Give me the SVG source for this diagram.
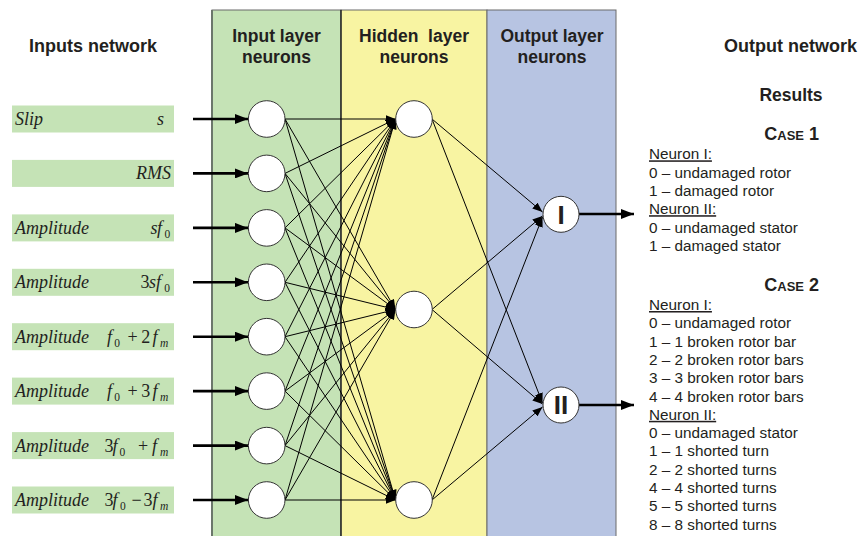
<svg xmlns="http://www.w3.org/2000/svg" width="860" height="536" viewBox="0 0 860 536">
<defs>
<marker id="a" markerUnits="userSpaceOnUse" markerWidth="10" markerHeight="8" refX="10" refY="4" orient="auto"><path d="M0,0 L10,4 L0,8 z" fill="#000"/></marker>
<marker id="A" markerUnits="userSpaceOnUse" markerWidth="13" markerHeight="10" refX="13" refY="5" orient="auto"><path d="M0,0 L13,5 L0,10 z" fill="#000"/></marker>
<style>
.h{font-family:"Liberation Sans",Arial,sans-serif;font-weight:bold;font-size:18px;fill:#231f20}
.ht{font-family:"Liberation Sans",Arial,sans-serif;font-weight:bold;font-size:17.5px;fill:#231f20;text-anchor:middle}
.l{font-family:"Liberation Sans",Arial,sans-serif;font-size:15.3px;fill:#231f20}
.u{text-decoration:underline}
.m{font-family:"Liberation Serif","Times New Roman",serif;font-style:italic;font-size:18px;fill:#231f20}
.r{font-style:normal}
.sb{font-size:11.5px;font-style:normal}
.si{font-size:11.5px}
.box{fill:#c5e3b6}
.n{fill:#fff;stroke:#333;stroke-width:1}
.c line{stroke:#000;stroke-width:1;marker-end:url(#a)}
.t line{stroke:#000;stroke-width:2.6;marker-end:url(#A)}
</style>
</defs>
<rect width="860" height="536" fill="#fff"/>
<g id="panels">
<rect x="212" y="10" width="129" height="530" fill="#c5e3b6" stroke="#6a6a6a" stroke-width="1"/>
<line x1="212" y1="10" x2="212" y2="536" stroke="#6b776b" stroke-width="2"/>
<rect x="341" y="10" width="146" height="530" fill="#f8f4a2" stroke="#6a6a6a" stroke-width="1"/>
<rect x="487" y="10" width="129" height="530" fill="#b7c4e2" stroke="#6a6a6a" stroke-width="1"/>
<line x1="341" y1="10" x2="341" y2="536" stroke="#111" stroke-width="1.2"/>
<text class="ht" x="276.5" y="42">Input layer</text>
<text class="ht" x="276.5" y="63">neurons</text>
<text class="ht" x="414" y="42" xml:space="preserve">Hidden  layer</text>
<text class="ht" x="414" y="63">neurons</text>
<text class="ht" x="552" y="42">Output layer</text>
<text class="ht" x="552" y="63">neurons</text>
</g>
<text class="h" x="29" y="52">Inputs network</text>
<text class="h" x="724" y="52">Output network</text>
<g id="inputs">
<g id="in1"><rect class="box" x="12" y="105.5" width="162" height="27"/><text class="m" x="15" y="125">Slip</text><text class="m" x="157" y="125">s</text></g>
<g id="in2"><rect class="box" x="12" y="159.9" width="162" height="27"/><text class="m" x="171" y="179.4" text-anchor="end">RMS</text></g>
<g id="in3"><rect class="box" x="12" y="214.4" width="162" height="27"/><text class="m" x="15" y="233.9">Amplitude</text><text class="m" y="233.9"><tspan x="150.5">s</tspan><tspan x="157">f</tspan><tspan class="sb" x="164.5" dy="4">0</tspan></text></g>
<g id="in4"><rect class="box" x="12" y="268.8" width="162" height="27"/><text class="m" x="15" y="288.3">Amplitude</text><text class="m" y="288.3"><tspan class="r" x="140.5">3</tspan><tspan x="149">s</tspan><tspan x="156">f</tspan><tspan class="sb" x="164.3" dy="4">0</tspan></text></g>
<g id="in5"><rect class="box" x="12" y="323.2" width="162" height="27"/><text class="m" x="15" y="342.7">Amplitude</text><text class="m" y="342.7"><tspan x="107">f</tspan><tspan class="sb" x="114.3" dy="4">0</tspan><tspan class="r" x="127.5" dy="-4">+</tspan><tspan class="r" x="141.3">2</tspan><tspan x="152.5">f</tspan><tspan class="si" x="160" dy="4">m</tspan></text></g>
<g id="in6"><rect class="box" x="12" y="377.6" width="162" height="27"/><text class="m" x="15" y="397.1">Amplitude</text><text class="m" y="397.1"><tspan x="107">f</tspan><tspan class="sb" x="114.3" dy="4">0</tspan><tspan class="r" x="127.5" dy="-4">+</tspan><tspan class="r" x="141.3">3</tspan><tspan x="152.5">f</tspan><tspan class="si" x="160" dy="4">m</tspan></text></g>
<g id="in7"><rect class="box" x="12" y="432.1" width="162" height="27"/><text class="m" x="15" y="451.6">Amplitude</text><text class="m" y="451.6"><tspan class="r" x="104.5">3</tspan><tspan x="112.5">f</tspan><tspan class="sb" x="119.5" dy="4">0</tspan><tspan class="r" x="138" dy="-4">+</tspan><tspan x="152">f</tspan><tspan class="si" x="160" dy="4">m</tspan></text></g>
<g id="in8"><rect class="box" x="12" y="486.5" width="162" height="27"/><text class="m" x="15" y="506">Amplitude</text><text class="m" y="506"><tspan class="r" x="104.5">3</tspan><tspan x="112.5">f</tspan><tspan class="sb" x="120" dy="4">0</tspan><tspan class="r" x="131.5" dy="-4">−</tspan><tspan class="r" x="143.5">3</tspan><tspan x="152.5">f</tspan><tspan class="si" x="160" dy="4">m</tspan></text></g>
</g>
<g id="connectors">
<g class="t">
<line x1="193" y1="119" x2="248" y2="119"/>
<line x1="193" y1="173.4" x2="248" y2="173.4"/>
<line x1="193" y1="227.9" x2="248" y2="227.9"/>
<line x1="193" y1="282.3" x2="248" y2="282.3"/>
<line x1="193" y1="336.7" x2="248" y2="336.7"/>
<line x1="193" y1="391.1" x2="248" y2="391.1"/>
<line x1="193" y1="445.6" x2="248" y2="445.6"/>
<line x1="193" y1="500" x2="248" y2="500"/>
<line x1="579" y1="214" x2="634" y2="214"/>
<line x1="579" y1="405" x2="634" y2="405"/>
</g>
<g class="c">
<line x1="285" y1="119" x2="395.5" y2="119"/><line x1="285" y1="119" x2="395.5" y2="309.5"/><line x1="285" y1="119" x2="395.5" y2="500"/>
<line x1="285" y1="173.4" x2="395.5" y2="119"/><line x1="285" y1="173.4" x2="395.5" y2="309.5"/><line x1="285" y1="173.4" x2="395.5" y2="500"/>
<line x1="285" y1="227.9" x2="395.5" y2="119"/><line x1="285" y1="227.9" x2="395.5" y2="309.5"/><line x1="285" y1="227.9" x2="395.5" y2="500"/>
<line x1="285" y1="282.3" x2="395.5" y2="119"/><line x1="285" y1="282.3" x2="395.5" y2="309.5"/><line x1="285" y1="282.3" x2="395.5" y2="500"/>
<line x1="285" y1="336.7" x2="395.5" y2="119"/><line x1="285" y1="336.7" x2="395.5" y2="309.5"/><line x1="285" y1="336.7" x2="395.5" y2="500"/>
<line x1="285" y1="391.1" x2="395.5" y2="119"/><line x1="285" y1="391.1" x2="395.5" y2="309.5"/><line x1="285" y1="391.1" x2="395.5" y2="500"/>
<line x1="285" y1="445.6" x2="395.5" y2="119"/><line x1="285" y1="445.6" x2="395.5" y2="309.5"/><line x1="285" y1="445.6" x2="395.5" y2="500"/>
<line x1="285" y1="500" x2="395.5" y2="119"/><line x1="285" y1="500" x2="395.5" y2="309.5"/><line x1="285" y1="500" x2="395.5" y2="500"/>
<line x1="432" y1="119" x2="542.5" y2="212"/><line x1="432" y1="119" x2="542.5" y2="403"/>
<line x1="432" y1="309.5" x2="542.5" y2="216"/><line x1="432" y1="309.5" x2="542.5" y2="404"/>
<line x1="432" y1="500" x2="542.5" y2="217"/><line x1="432" y1="500" x2="542.5" y2="407"/>
</g>
</g>
<g id="input-neurons">
<circle id="i1" class="n" cx="266.7" cy="119" r="18.3"/>
<circle id="i2" class="n" cx="266.7" cy="173.4" r="18.3"/>
<circle id="i3" class="n" cx="266.7" cy="227.9" r="18.3"/>
<circle id="i4" class="n" cx="266.7" cy="282.3" r="18.3"/>
<circle id="i5" class="n" cx="266.7" cy="336.7" r="18.3"/>
<circle id="i6" class="n" cx="266.7" cy="391.1" r="18.3"/>
<circle id="i7" class="n" cx="266.7" cy="445.6" r="18.3"/>
<circle id="i8" class="n" cx="266.7" cy="500" r="18.3"/>
</g>
<g id="hidden-neurons">
<circle id="h1" class="n" cx="414" cy="119" r="18.3"/>
<circle id="h2" class="n" cx="414" cy="309.5" r="18.3"/>
<circle id="h3" class="n" cx="414" cy="500" r="18.3"/>
</g>
<g id="out1"><circle class="n" cx="561" cy="214.3" r="18"/><text x="561" y="223.5" text-anchor="middle" font-family="Liberation Sans,Arial,sans-serif" font-weight="bold" font-size="26" fill="#231f20">I</text></g>
<g id="out2"><circle class="n" cx="561" cy="405" r="18"/><text x="561" y="414.2" text-anchor="middle" font-family="Liberation Sans,Arial,sans-serif" font-weight="bold" font-size="26" fill="#231f20">II</text></g>
<g id="results">
<text class="ht" x="791" y="100.5">Results</text>
<text class="h" x="819" y="140" text-anchor="end" font-size="16.5">C<tspan font-size="13">ASE</tspan> 1</text>
<text class="l u" x="649" y="159.3">Neuron I:</text>
<text class="l" x="649" y="177.6">0 – undamaged rotor</text>
<text class="l" x="649" y="195.9">1 – damaged rotor</text>
<text class="l u" x="649" y="214.2">Neuron II:</text>
<text class="l" x="649" y="232.5">0 – undamaged stator</text>
<text class="l" x="649" y="250.8">1 – damaged stator</text>
<text class="h" x="819" y="290.7" text-anchor="end" font-size="16.5">C<tspan font-size="13">ASE</tspan> 2</text>
<text class="l u" x="649" y="310">Neuron I:</text>
<text class="l" x="649" y="328.3">0 – undamaged rotor</text>
<text class="l" x="649" y="346.6">1 – 1 broken rotor bar</text>
<text class="l" x="649" y="364.9">2 – 2 broken rotor bars</text>
<text class="l" x="649" y="383.2">3 – 3 broken rotor bars</text>
<text class="l" x="649" y="401.5">4 – 4 broken rotor bars</text>
<text class="l u" x="649" y="419.8">Neuron II:</text>
<text class="l" x="649" y="438.1">0 – undamaged stator</text>
<text class="l" x="649" y="456.4">1 – 1 shorted turn</text>
<text class="l" x="649" y="474.7">2 – 2 shorted turns</text>
<text class="l" x="649" y="493">4 – 4 shorted turns</text>
<text class="l" x="649" y="511.3">5 – 5 shorted turns</text>
<text class="l" x="649" y="529.6">8 – 8 shorted turns</text>
</g>
</svg>
